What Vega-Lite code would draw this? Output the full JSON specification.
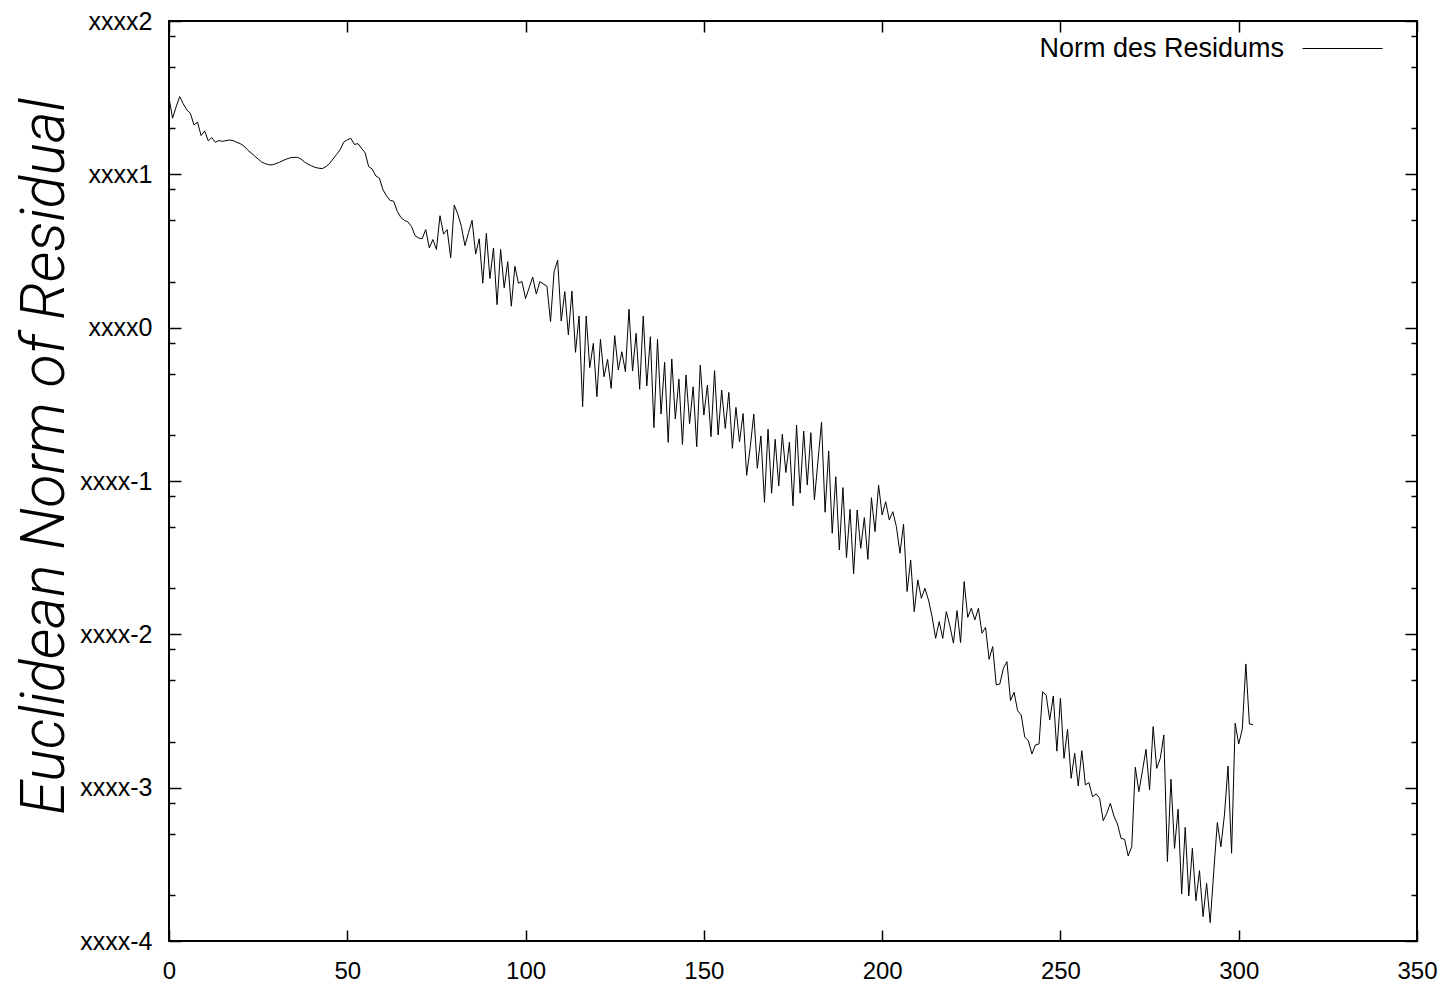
{
 "$schema": "https://vega.github.io/schema/vega-lite/v6.json",
 "width": 1248,
 "height": 920,
 "autosize": {"type": "none"},
 "padding": {"left": 169, "top": 21, "right": 26, "bottom": 42},
 "background": "white",
 "config": {
  "view": {"stroke": "black", "strokeWidth": 2},
  "axis": {"grid": false, "domain": false, "labelFont": "Liberation Sans", "labelFontSize": 25, "labelColor": "black", "tickColor": "black", "tickWidth": 1.5, "labelFlush": false, "labelOverlap": false}
 },
 "data": {"values": [
{"it":0,"v":1.50},{"it":1,"v":1.366},{"it":2,"v":1.44},{"it":3,"v":1.507},{"it":4,"v":1.46},{"it":5,"v":1.42},{"it":6,"v":1.398},{"it":7,"v":1.322},{"it":8,"v":1.34},{"it":9,"v":1.253},
{"it":10,"v":1.283},{"it":11,"v":1.218},{"it":12,"v":1.24},{"it":13,"v":1.209},{"it":14,"v":1.22},{"it":15,"v":1.215},{"it":16,"v":1.22},{"it":17,"v":1.224},{"it":18,"v":1.22},{"it":19,"v":1.209},
{"it":20,"v":1.20},{"it":21,"v":1.185},{"it":22,"v":1.16},{"it":23,"v":1.14},{"it":24,"v":1.12},{"it":25,"v":1.10},{"it":26,"v":1.08},{"it":27,"v":1.07},{"it":28,"v":1.062},{"it":29,"v":1.062},
{"it":30,"v":1.07},{"it":31,"v":1.079},{"it":32,"v":1.09},{"it":33,"v":1.10},{"it":34,"v":1.108},{"it":35,"v":1.111},{"it":36,"v":1.111},{"it":37,"v":1.10},{"it":38,"v":1.08},{"it":39,"v":1.066},
{"it":40,"v":1.055},{"it":41,"v":1.045},{"it":42,"v":1.04},{"it":43,"v":1.037},{"it":44,"v":1.05},{"it":45,"v":1.07},{"it":46,"v":1.10},{"it":47,"v":1.13},{"it":48,"v":1.16},{"it":49,"v":1.21},
{"it":50,"v":1.225},{"it":51,"v":1.235},{"it":52,"v":1.195},{"it":53,"v":1.2},{"it":54,"v":1.17},{"it":55,"v":1.14},{"it":56,"v":1.05},{"it":57,"v":1.035},{"it":58,"v":0.99},{"it":59,"v":0.975},
{"it":60,"v":0.90},{"it":61,"v":0.86},{"it":62,"v":0.83},{"it":63,"v":0.825},{"it":64,"v":0.76},{"it":65,"v":0.72},{"it":66,"v":0.70},{"it":67,"v":0.69},{"it":68,"v":0.66},{"it":69,"v":0.60},
{"it":70,"v":0.585},{"it":71,"v":0.58},{"it":72,"v":0.64},{"it":73,"v":0.52},{"it":74,"v":0.575},{"it":75,"v":0.51},{"it":76,"v":0.73},{"it":77,"v":0.61},{"it":78,"v":0.64},{"it":79,"v":0.456},
{"it":80,"v":0.80},{"it":81,"v":0.74},{"it":82,"v":0.66},{"it":83,"v":0.535},{"it":84,"v":0.62},{"it":85,"v":0.70},{"it":86,"v":0.48},{"it":87,"v":0.58},{"it":88,"v":0.29},{"it":89,"v":0.615},
{"it":90,"v":0.32},{"it":91,"v":0.52},{"it":92,"v":0.15},{"it":93,"v":0.51},{"it":94,"v":0.26},{"it":95,"v":0.43},{"it":96,"v":0.14},{"it":97,"v":0.40},{"it":98,"v":0.29},{"it":99,"v":0.30},
{"it":100,"v":0.19},{"it":101,"v":0.26},{"it":102,"v":0.33},{"it":103,"v":0.22},{"it":104,"v":0.30},{"it":105,"v":0.285},{"it":106,"v":0.27},{"it":107,"v":0.04},{"it":108,"v":0.365},{"it":109,"v":0.44},
{"it":110,"v":0.043},{"it":111,"v":0.235},{"it":112,"v":-0.048},{"it":113,"v":0.239},{"it":114,"v":-0.161},{"it":115,"v":0.076},{"it":116,"v":-0.515},{"it":117,"v":0.076},{"it":118,"v":-0.261},{"it":119,"v":-0.102},
{"it":120,"v":-0.45},{"it":121,"v":-0.076},{"it":122,"v":-0.32},{"it":123,"v":-0.207},{"it":124,"v":-0.396},{"it":125,"v":-0.052},{"it":126,"v":-0.276},{"it":127,"v":-0.157},{"it":128,"v":-0.287},{"it":129,"v":0.12},
{"it":130,"v":-0.283},{"it":131,"v":-0.037},{"it":132,"v":-0.402},{"it":133,"v":0.076},{"it":134,"v":-0.38},{"it":135,"v":-0.059},{"it":136,"v":-0.652},{"it":137,"v":-0.076},{"it":138,"v":-0.563},{"it":139,"v":-0.226},
{"it":140,"v":-0.748},{"it":141,"v":-0.204},{"it":142,"v":-0.596},{"it":143,"v":-0.335},{"it":144,"v":-0.761},{"it":145,"v":-0.309},{"it":146,"v":-0.626},{"it":147,"v":-0.385},{"it":148,"v":-0.776},{"it":149,"v":-0.244},
{"it":150,"v":-0.57},{"it":151,"v":-0.374},{"it":152,"v":-0.711},{"it":153,"v":-0.28},{"it":154,"v":-0.70},{"it":155,"v":-0.407},{"it":156,"v":-0.657},{"it":157,"v":-0.422},{"it":158,"v":-0.787},{"it":159,"v":-0.52},
{"it":160,"v":-0.744},{"it":161,"v":-0.56},{"it":162,"v":-0.963},{"it":163,"v":-0.78},{"it":164,"v":-0.564},{"it":165,"v":-0.917},{"it":166,"v":-0.706},{"it":167,"v":-1.139},{"it":168,"v":-0.662},{"it":169,"v":-1.08},
{"it":170,"v":-0.728},{"it":171,"v":-1.032},{"it":172,"v":-0.695},{"it":173,"v":-0.945},{"it":174,"v":-0.747},{"it":175,"v":-1.162},{"it":176,"v":-0.635},{"it":177,"v":-1.08},{"it":178,"v":-0.674},{"it":179,"v":-1.026},
{"it":180,"v":-0.685},{"it":181,"v":-1.124},{"it":182,"v":-0.87},{"it":183,"v":-0.617},{"it":184,"v":-1.204},{"it":185,"v":-0.804},{"it":186,"v":-1.341},{"it":187,"v":-0.972},{"it":188,"v":-1.45},{"it":189,"v":-1.043},
{"it":190,"v":-1.5},{"it":191,"v":-1.185},{"it":192,"v":-1.606},{"it":193,"v":-1.189},{"it":194,"v":-1.439},{"it":195,"v":-1.239},{"it":196,"v":-1.511},{"it":197,"v":-1.109},{"it":198,"v":-1.33},{"it":199,"v":-1.026},
{"it":200,"v":-1.221},{"it":201,"v":-1.135},{"it":202,"v":-1.254},{"it":203,"v":-1.20},{"it":204,"v":-1.298},{"it":205,"v":-1.471},{"it":206,"v":-1.282},{"it":207,"v":-1.721},{"it":208,"v":-1.515},{"it":209,"v":-1.852},
{"it":210,"v":-1.645},{"it":211,"v":-1.765},{"it":212,"v":-1.70},{"it":213,"v":-1.776},{"it":214,"v":-1.885},{"it":215,"v":-2.026},{"it":216,"v":-1.917},{"it":217,"v":-2.026},{"it":218,"v":-1.852},{"it":219,"v":-1.945},
{"it":220,"v":-2.058},{"it":221,"v":-1.845},{"it":222,"v":-2.054},{"it":223,"v":-1.656},{"it":224,"v":-1.889},{"it":225,"v":-1.83},{"it":226,"v":-1.906},{"it":227,"v":-1.83},{"it":228,"v":-1.993},{"it":229,"v":-1.954},
{"it":230,"v":-2.163},{"it":231,"v":-2.08},{"it":232,"v":-2.33},{"it":233,"v":-2.324},{"it":234,"v":-2.221},{"it":235,"v":-2.178},{"it":236,"v":-2.432},{"it":237,"v":-2.378},{"it":238,"v":-2.498},{"it":239,"v":-2.526},
{"it":240,"v":-2.671},{"it":241,"v":-2.693},{"it":242,"v":-2.78},{"it":243,"v":-2.721},{"it":244,"v":-2.715},{"it":245,"v":-2.374},{"it":246,"v":-2.398},{"it":247,"v":-2.558},{"it":248,"v":-2.402},{"it":249,"v":-2.762},
{"it":250,"v":-2.417},{"it":251,"v":-2.809},{"it":252,"v":-2.619},{"it":253,"v":-2.939},{"it":254,"v":-2.776},{"it":255,"v":-2.989},{"it":256,"v":-2.759},{"it":257,"v":-2.982},{"it":258,"v":-2.967},{"it":259,"v":-3.059},
{"it":260,"v":-3.041},{"it":261,"v":-3.069},{"it":262,"v":-3.215},{"it":263,"v":-3.167},{"it":264,"v":-3.102},{"it":265,"v":-3.185},{"it":266,"v":-3.237},{"it":267,"v":-3.33},{"it":268,"v":-3.337},{"it":269,"v":-3.445},
{"it":270,"v":-3.385},{"it":271,"v":-2.867},{"it":272,"v":-3.026},{"it":273,"v":-2.89},{"it":274,"v":-2.75},{"it":275,"v":-3.015},{"it":276,"v":-2.602},{"it":277,"v":-2.874},{"it":278,"v":-2.809},{"it":279,"v":-2.656},
{"it":280,"v":-3.482},{"it":281,"v":-2.945},{"it":282,"v":-3.396},{"it":283,"v":-3.141},{"it":284,"v":-3.693},{"it":285,"v":-3.259},{"it":286,"v":-3.706},{"it":287,"v":-3.396},{"it":288,"v":-3.737},{"it":289,"v":-3.541},
{"it":290,"v":-3.841},{"it":291,"v":-3.624},{"it":292,"v":-3.88},{"it":293,"v":-3.548},{"it":294,"v":-3.228},{"it":295,"v":-3.385},{"it":296,"v":-3.178},{"it":297,"v":-2.859},{"it":298,"v":-3.428},{"it":299,"v":-2.58},
{"it":300,"v":-2.715},{"it":301,"v":-2.619},{"it":302,"v":-2.193},{"it":303,"v":-2.585},{"it":304,"v":-2.589}
 ]},
 "layer": [
  {
   "mark": {"type": "line", "strokeWidth": 1},
   "encoding": {
    "x": {"field": "it", "type": "quantitative", "scale": {"domain": [0, 350], "nice": false, "zero": false},
          "axis": {"orient": "bottom", "values": [0, 50, 100, 150, 200, 250, 300, 350], "tickSize": -11, "labelPadding": 29, "labelFontSize": 24, "title": null}},
    "y": {"field": "v", "type": "quantitative", "scale": {"domain": [-4, 2], "nice": false, "zero": false},
          "axis": {"orient": "left", "values": [-4, -3, -2, -1, 0, 1, 2], "tickSize": -12, "labelPadding": 29, "labelBaseline": "middle",
                   "labelExpr": "'xxxx' + datum.value",
                   "title": "Euclidean Norm of Residual", "titleFont": "Roboto", "titleFontStyle": "italic", "titleFontWeight": 300,
                   "titleFontSize": 61, "titleColor": "black", "titleAngle": 270, "titleX": -106, "titleY": 435,
                   "titleAlign": "center", "titleBaseline": "alphabetic"}},
    "color": {"datum": "Norm des Residums", "type": "nominal", "scale": {"range": ["black"]},
              "legend": {"title": null, "orient": "none", "legendX": 1133, "legendY": -13, "padding": 0,
                         "symbolType": "stroke", "symbolSize": 6400, "symbolStrokeWidth": 1, "symbolStrokeColor": "black",
                         "labelFont": "Liberation Sans", "labelFontSize": 27, "labelColor": "black", "labelAlign": "right",
                         "labelOffset": -99, "labelLimit": 500}}
   }
  },
  {
   "mark": {"type": "line", "opacity": 0},
   "encoding": {
    "x": {"field": "it", "type": "quantitative", "axis": {"orient": "top", "values": [0, 50, 100, 150, 200, 250, 300, 350], "tickSize": -11, "labels": false, "title": null}},
    "y": {"field": "v", "type": "quantitative", "axis": {"orient": "right", "values": [-4, -3, -2, -1, 0, 1, 2], "tickSize": -12, "labels": false, "title": null}}
   }
  },
  {
   "mark": {"type": "line", "opacity": 0},
   "encoding": {
    "x": {"field": "it", "type": "quantitative", "axis": null},
    "y": {"field": "v", "type": "quantitative", "axis": {"orient": "left", "values": [-3.69897, -3.30103, -3.09691, -2.69897, -2.30103, -2.09691, -1.69897, -1.30103, -1.09691, -0.69897, -0.30103, -0.09691, 0.30103, 0.69897, 0.90309, 1.30103, 1.69897, 1.90309], "tickSize": -6, "labels": false, "title": null}}
   }
  },
  {
   "mark": {"type": "line", "opacity": 0},
   "encoding": {
    "x": {"field": "it", "type": "quantitative", "axis": null},
    "y": {"field": "v", "type": "quantitative", "axis": {"orient": "right", "values": [-3.69897, -3.30103, -3.09691, -2.69897, -2.30103, -2.09691, -1.69897, -1.30103, -1.09691, -0.69897, -0.30103, -0.09691, 0.30103, 0.69897, 0.90309, 1.30103, 1.69897, 1.90309], "tickSize": -6, "labels": false, "title": null}}
   }
  }
 ],
 "resolve": {"axis": {"x": "independent", "y": "independent"}}
}
